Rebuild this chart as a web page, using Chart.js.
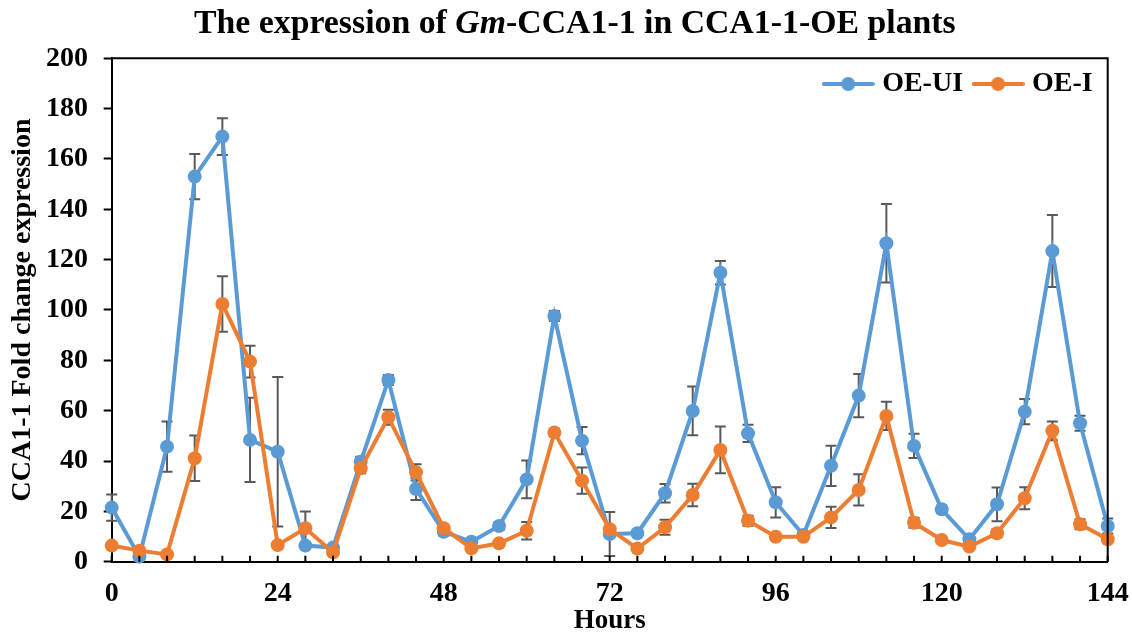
<!DOCTYPE html>
<html>
<head>
<meta charset="utf-8">
<script src="https://cdn.jsdelivr.net/npm/chart.js@4.4.1/dist/chart.umd.min.js"></script>
<style>
  body { margin: 0; background: #fff; }
  #wrap { position: relative; width: 1132px; height: 635px; }
  #title {
    position: absolute; left: 194px; top: 5px; white-space: nowrap;
    font: bold 33.8px "Liberation Serif", "Times New Roman", serif; line-height: 33px; color: #000;
  }
  canvas { position: absolute; left: 0; top: 0; }
</style>
</head>
<body>
<div id="wrap">
  <canvas id="myChart" width="1132" height="635"></canvas>
  <div id="title">The expression of <i>Gm</i>-CCA1-1 in CCA1-1-OE plants</div>
</div>
<script>
const hours = [0, 4, 8, 12, 16, 20, 24, 28, 32, 36, 40, 44, 48, 52, 56, 60, 64, 68, 72,
  76, 80, 84, 88, 92, 96, 100, 104, 108, 112, 116, 120, 124, 128, 132, 136, 140, 144];

const oeUI = [21.5, 2.0, 45.7, 153.0, 168.9, 48.4, 43.7, 6.4, 5.6, 39.7, 72.2, 28.9, 11.9,
  7.9, 14.2, 32.7, 97.6, 48.1, 11.0, 11.3, 27.2, 59.9, 114.8, 51.0, 23.6, 10.6, 38.1,
  66.0, 126.5, 46.0, 20.8, 8.9, 22.8, 59.6, 123.4, 55.0, 14.2];
const errUI = [5.2, 1, 10, 9, 7.3, 16.7, 29.7, 1, 1, 2, 2, 4.4, 1.5, 1, 1.5, 7.5, 2, 5.4,
  8.7, 1, 3.7, 9.7, 4.7, 3.4, 6, 1, 8, 8.6, 15.6, 4.8, 1.5, 1.5, 6.7, 5, 14.3, 3, 3];

const oeI = [6.4, 4.4, 2.9, 41.1, 102.4, 79.5, 6.6, 13.3, 3.7, 37.1, 57.4, 35.5, 13.3,
  5.3, 7.3, 12.3, 51.3, 32.2, 12.9, 5.2, 13.7, 26.5, 44.4, 16.3, 9.9, 9.9, 17.6, 28.5,
  57.9, 15.5, 8.6, 6.0, 11.3, 25.2, 52.0, 14.9, 8.9];
const errI = [1, 1, 1, 9, 11, 6.3, 1, 6.6, 1, 2, 3, 3.2, 1, 1, 1, 3.5, 1.5, 5.2, 1, 1, 3,
  4.5, 9.3, 2, 1, 1, 4.2, 6.2, 5.6, 2, 1, 1, 1.5, 4.4, 3.7, 2, 1];

const seriesNames = ["OE-UI", "OE-I"];
const blue = "#5B9BD5";
const orange = "#ED7D31";
const serif = "'Liberation Serif', 'Times New Roman', serif";

// legend icon: line with a dot in the middle
function legendIcon(color) {
  const c = document.createElement("canvas");
  c.width = 53; c.height = 16;
  const g = c.getContext("2d");
  g.strokeStyle = color; g.lineWidth = 4; g.lineCap = "round";
  g.beginPath(); g.moveTo(2, 8); g.lineTo(51, 8); g.stroke();
  g.fillStyle = color;
  g.beginPath(); g.arc(26.5, 8, 7, 0, Math.PI * 2); g.fill();
  return c;
}
const icons = [legendIcon(blue), legendIcon(orange)];
const errors = [errUI, errI];

const errorBars = {
  id: "errorBars",
  beforeDatasetsDraw(chart) {
    const ctx = chart.ctx;
    const x = chart.scales.x, y = chart.scales.y;
    ctx.save();
    ctx.strokeStyle = "#595959";
    ctx.lineWidth = 2;
    chart.data.datasets.forEach((ds, i) => {
      ds.data.forEach((p, j) => {
        const e = errors[i][j];
        const px = x.getPixelForValue(p.x);
        const top = y.getPixelForValue(p.y + e);
        const bot = y.getPixelForValue(p.y - e);
        ctx.beginPath();
        ctx.moveTo(px, top); ctx.lineTo(px, bot);
        ctx.moveTo(px - 5.5, top); ctx.lineTo(px + 5.5, top);
        ctx.moveTo(px - 5.5, bot); ctx.lineTo(px + 5.5, bot);
        ctx.stroke();
      });
    });
    ctx.restore();
  }
};

const frame = {
  id: "frame",
  afterLayout(chart) {
    // push the legend down into the plot area
    const lg = chart.legend;
    lg.top += 49.7; lg.bottom += 49.7;
  },
  afterDraw(chart) {
    const {ctx, chartArea: a} = chart;
    const x = chart.scales.x;
    ctx.save();
    ctx.strokeStyle = "#000";
    ctx.lineWidth = 2;
    ctx.beginPath();
    ctx.moveTo(a.left, a.top); ctx.lineTo(a.right, a.top); ctx.lineTo(a.right, a.bottom);
    ctx.stroke();
    // inward tick marks every 4 h
    ctx.beginPath();
    hours.forEach(h => {
      const px = x.getPixelForValue(h);
      ctx.moveTo(px, a.bottom); ctx.lineTo(px, a.bottom - 6);
    });
    ctx.stroke();
    ctx.restore();
  }
};

const config = {
  type: "line",
  data: {
    datasets: [
      {
        label: seriesNames[0],
        data: hours.map((h, i) => ({x: h, y: oeUI[i]})),
        borderColor: blue, backgroundColor: blue,
        borderWidth: 4, pointRadius: 7, pointBorderWidth: 0, pointHoverRadius: 7,
        tension: 0, clip: false, order: 1
      },
      {
        label: seriesNames[1],
        data: hours.map((h, i) => ({x: h, y: oeI[i]})),
        borderColor: orange, backgroundColor: orange,
        borderWidth: 4, pointRadius: 7, pointBorderWidth: 0, pointHoverRadius: 7,
        tension: 0, clip: false, order: 0
      }
    ]
  },
  options: {
    responsive: false,
    animation: false,
    devicePixelRatio: 1,
    layout: { padding: { top: 5.3, right: 24.3, bottom: 0, left: 0 } },
    plugins: {
      title: { display: false },
      tooltip: { enabled: false },
      legend: {
        position: "top",
        align: "end",
        fullSize: false,
        labels: {
          usePointStyle: true,
          pointStyleWidth: 40,
          padding: 15,
          color: "#000",
          font: { family: serif, size: 28, weight: "bold" },
          sort: (a, b) => a.datasetIndex - b.datasetIndex,
          generateLabels(chart) {
            const items = Chart.defaults.plugins.legend.labels.generateLabels(chart);
            items.forEach(it => { it.pointStyle = icons[it.datasetIndex]; });
            return items;
          }
        }
      }
    },
    scales: {
      x: {
        type: "linear",
        min: 0, max: 144,
        afterFit(s) { s.height = 73.3; s.paddingLeft = 0; s.paddingRight = 0; },
        grid: { display: false, drawTicks: false },
        border: { color: "#000", width: 2 },
        ticks: {
          stepSize: 24, padding: 15, color: "#000",
          font: { family: serif, size: 28, weight: "bold" }
        },
        title: {
          display: true, text: "Hours", color: "#000",
          padding: { top: 0, bottom: 0 },
          font: { family: serif, size: 27, weight: "bold", lineHeight: 1 }
        }
      },
      y: {
        min: 0, max: 200,
        afterFit(s) { s.width = 111.7; },
        grid: { drawOnChartArea: false, drawTicks: true, tickLength: 8, tickColor: "#000", tickWidth: 2 },
        border: { color: "#000", width: 2 },
        ticks: {
          stepSize: 20, padding: 15.7, color: "#000",
          font: { family: serif, size: 28, weight: "bold" }
        },
        title: {
          display: true, text: "CCA1-1 Fold change expression", color: "#000",
          padding: { top: 6, bottom: 0 },
          font: { family: serif, size: 28, weight: "bold" }
        }
      }
    }
  },
  plugins: [errorBars, frame]
};

const myChart = new Chart(document.getElementById("myChart"), config);
</script>
</body>
</html>
